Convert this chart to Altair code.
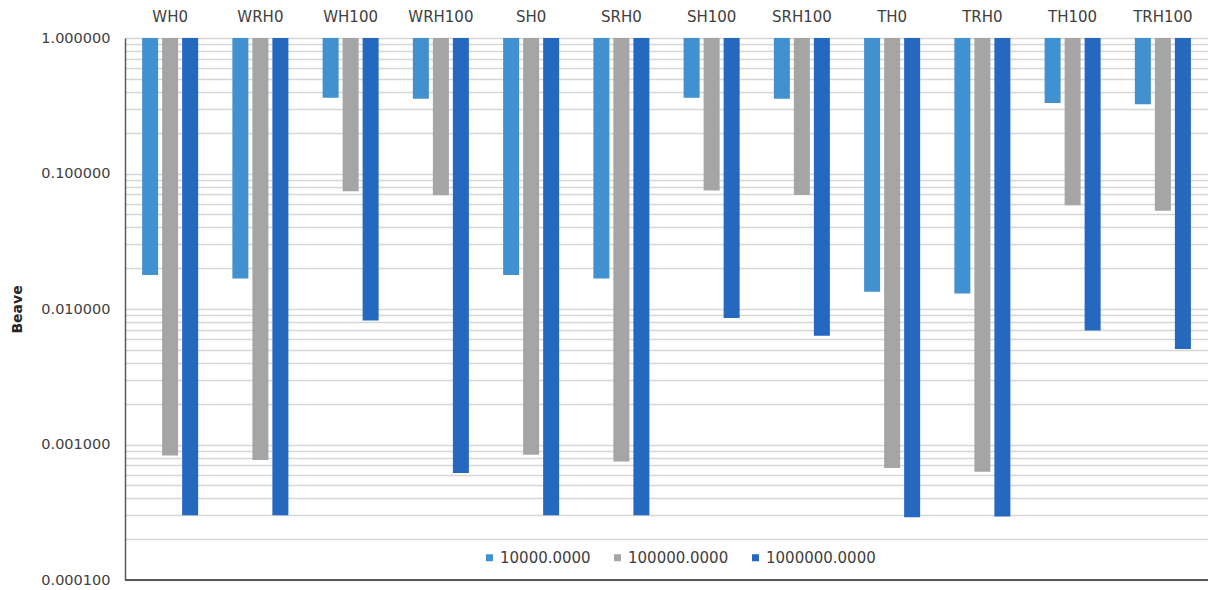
import altair as alt
import pandas as pd

# Groups along the top axis
categories = ["WH0", "WRH0", "WH100", "WRH100", "SH0", "SRH0",
              "SH100", "SRH100", "TH0", "TRH0", "TH100", "TRH100"]

# Series (frequency) names shown in the legend
series = ["10000.0000", "100000.0000", "1000000.0000"]

# Beave values for each series, one per group
beave_1e4 = [0.0178, 0.0168, 0.362, 0.356, 0.0178, 0.0168,
             0.362, 0.356, 0.0134, 0.0130, 0.332, 0.324]
beave_1e5 = [0.00083, 0.00077, 0.0739, 0.0690, 0.00084, 0.00075,
             0.0748, 0.0695, 0.00067, 0.00063, 0.0582, 0.0532]
beave_1e6 = [0.00030, 0.00030, 0.00824, 0.000615, 0.00030, 0.00030,
             0.00858, 0.00635, 0.00029, 0.000294, 0.00695, 0.00506]

colors = ["#4190d0", "#a5a5a5", "#2468c0"]

rows = []
for s, vals in zip(series, [beave_1e4, beave_1e5, beave_1e6]):
    for c, v in zip(categories, vals):
        rows.append({"category": c, "series": s, "value": v})
df = pd.DataFrame(rows)

# Major and minor log gridlines from 1e-4 up to 1
grid_values = [m * 10.0 ** k for k in range(-4, 0) for m in range(1, 10)] + [1.0]

FONT = "DejaVu Sans"
TEXT = "#404040"

label_expr = ("abs(log(datum.value)/LN10 - round(log(datum.value)/LN10)) < 1e-6"
              " ? format(datum.value, '.6f') : ''")

bars = alt.Chart(df).mark_bar().encode(
    x=alt.X(
        "category:N",
        sort=categories,
        scale=alt.Scale(paddingInner=0.335, paddingOuter=0.1675),
        axis=alt.Axis(orient="top", title=None, labelAngle=0, ticks=False,
                      domain=False, grid=False, labelFontSize=15,
                      labelFont=FONT, labelColor=TEXT, labelPadding=14),
    ),
    xOffset=alt.XOffset(
        "series:N", sort=series,
        scale=alt.Scale(paddingInner=0.2, paddingOuter=0.1),
    ),
    y=alt.Y(
        "value:Q",
        scale=alt.Scale(type="log", domain=[0.0001, 1]),
        axis=alt.Axis(
            values=grid_values, labelExpr=label_expr, ticks=False,
            title="Beave", titleFont=FONT, titleFontSize=14,
            titleFontWeight="bold", titleColor="#262626",
            titleX=-108, titleY=271, titleAlign="center",
            titleBaseline="middle",
            labelFont=FONT, labelFontSize=14.5, labelColor=TEXT,
            labelPadding=15, domainColor="#595959", domainWidth=1.5,
            gridColor="#d6d6d6", gridWidth=1.4,
        ),
    ),
    y2=alt.datum(1),
    color=alt.Color(
        "series:N", sort=series,
        scale=alt.Scale(domain=series, range=colors),
        legend=alt.Legend(
            title=None, orient="none", direction="horizontal",
            legendX=357, legendY=512, symbolType="square", symbolSize=49,
            symbolStrokeWidth=0, labelFont=FONT, labelFontSize=15,
            labelColor=TEXT, labelOffset=3, columnPadding=19, padding=0,
        ),
    ),
)

bottom_line = alt.Chart(df).mark_rule(color="#595959", strokeWidth=1.5).encode(
    y=alt.datum(0.0001)
)

chart = alt.layer(bars, bottom_line).properties(
    width=1083,
    height=542,
    autosize=alt.AutoSizeParams(type="none"),
    padding={"left": 125, "top": 38, "right": 0, "bottom": 10},
    background="white",
).configure_view(stroke=None)

chart.save("out.html", embed_options={"renderer": "svg", "actions": False})
